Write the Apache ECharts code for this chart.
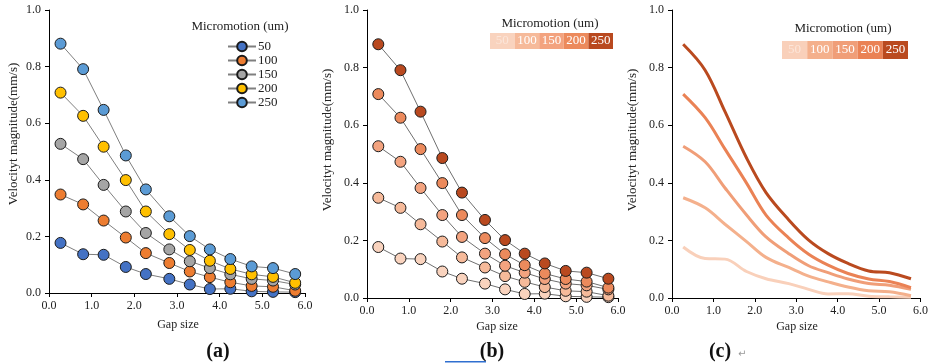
<!DOCTYPE html>
<html><head><meta charset="utf-8">
<script src="https://cdn.jsdelivr.net/npm/echarts@6/dist/echarts.min.js"></script>
<style>html,body{margin:0;padding:0;background:#fff}#c{width:931px;height:363px}</style>
</head><body><div id="c"></div>
<script>
var gapSize = [0.27, 0.8, 1.28, 1.8, 2.27, 2.82, 3.3, 3.77, 4.25, 4.75, 5.25, 5.77];
var seriesNames = ['50', '100', '150', '200', '250'];
var v50  = [0.177, 0.137, 0.135, 0.092, 0.067, 0.050, 0.030, 0.014, 0.015, 0.006, 0.004, 0.003];
var v100 = [0.348, 0.313, 0.256, 0.196, 0.141, 0.106, 0.076, 0.056, 0.038, 0.025, 0.022, 0.008];
var v150 = [0.527, 0.473, 0.382, 0.288, 0.212, 0.154, 0.112, 0.088, 0.066, 0.050, 0.044, 0.030];
var v200 = [0.708, 0.626, 0.517, 0.399, 0.288, 0.208, 0.152, 0.114, 0.085, 0.066, 0.057, 0.036];
var v250 = [0.881, 0.791, 0.647, 0.486, 0.366, 0.271, 0.201, 0.154, 0.120, 0.094, 0.088, 0.067];
var xTicks = ['0.0', '1.0', '2.0', '3.0', '4.0', '5.0', '6.0'];
var values = [v50, v100, v150, v200, v250];

var colorsA = ['#4472C4', '#ED7D31', '#A5A5A5', '#FFC000', '#5B9BD5'];
var colorsB = ['#F9D3BE', '#F6BA9A', '#F3A37F', '#EC8A5C', '#B9491F'];
var colorsC = ['#F9D0BA', '#F4B08C', '#F09E78', '#EA8255', '#BA4A1F'];
var FONT = 'Liberation Serif';

function pairs(v){ return gapSize.map(function(x,i){ return [x, v[i]]; }); }

var grids = [
  {left: 49, top: 10, width: 256, height: 283},
  {left: 367, top: 10, width: 251, height: 288},
  {left: 672, top: 10, width: 250, height: 288}
];
function xAx(i){ return {type:'value', gridIndex:i, min:0, max:6, interval:1,
  axisLine:{lineStyle:{color:'#000', width:1}}, axisTick:{show:true, length:4, lineStyle:{color:'#000'}},
  splitLine:{show:false},
  axisLabel:{color:'#222', fontFamily:FONT, fontSize:12, margin:7, formatter:function(v){return xTicks[Math.round(v)];}}}; }
function yAx(i){ return {type:'value', gridIndex:i, min:0, max:1, interval:0.2,
  axisLine:{show:true, lineStyle:{color:'#000', width:1}}, axisTick:{show:true, length:4, lineStyle:{color:'#000'}},
  splitLine:{show:false},
  axisLabel:{color:'#222', fontFamily:FONT, fontSize:12, margin:8, formatter:function(v){return v.toFixed(1);}}}; }

var series = [];
values.forEach(function(v,k){
  series.push({name:seriesNames[k], type:'line', xAxisIndex:0, yAxisIndex:0, data:pairs(v),
    symbol:'circle', symbolSize:11, lineStyle:{color:'#7f7f7f', width:1},
    itemStyle:{color:colorsA[k], borderColor:'#1a1a1a', borderWidth:1}, z:2+k});
});
values.forEach(function(v,k){
  series.push({name:'b'+seriesNames[k], type:'line', xAxisIndex:1, yAxisIndex:1, data:pairs(v),
    symbol:'circle', symbolSize:11, lineStyle:{color:'#6f6f6f', width:1},
    itemStyle:{color:colorsB[k], borderColor:'#1a1a1a', borderWidth:1}, z:2+k});
});
values.forEach(function(v,k){
  series.push({name:'c'+seriesNames[k], type:'line', xAxisIndex:2, yAxisIndex:2, data:pairs(v),
    symbol:'none', smooth:0.35, lineStyle:{color:colorsC[k], width:3}, z:2+k});
});

function richBlocks(cols, w, h){
  var r = {}; var keys=['a','b','c','d','e'];
  keys.forEach(function(key,k){ r[key] = {backgroundColor:cols[k], color: k===0 ? '#fce6da' : '#fff',
    width:w, height:h, lineHeight:h, align:'center', fontFamily:FONT, fontSize:13, fontWeight:'normal'}; });
  return r;
}
var blockText = seriesNames.map(function(n,k){ return '{' + 'abcde'[k] + '|' + n + '}'; }).join('');

var option = {
  animation:false,
  grid: grids,
  xAxis: [xAx(0), xAx(1), xAx(2)],
  yAxis: [yAx(0), yAx(1), yAx(2)],
  legend: {data: seriesNames, orient:'vertical', left:222, top:35, itemGap:1, itemWidth:28, itemHeight:12,
    textStyle:{fontFamily:FONT, fontSize:13, color:'#222', lineHeight:11, padding:[0,0,0,-3]}},
  title: [
    {text: blockText, left:490, top:33, padding:0, textStyle:{fontWeight:'normal', rich: richBlocks(colorsB, 24.6, 16)}},
    {text: blockText, left:782, top:41, padding:0, textStyle:{fontWeight:'normal', rich: richBlocks(colorsC, 25.2, 18)}}
  ],
  graphic: [
    {type:'text', x:240, y:27, style:{text:'Micromotion (um)', font:'13px "Liberation Serif"', fill:'#222', textAlign:'center', textVerticalAlign:'middle'}},
    {type:'text', x:550, y:24, style:{text:'Micromotion (um)', font:'13px "Liberation Serif"', fill:'#222', textAlign:'center', textVerticalAlign:'middle'}},
    {type:'text', x:843, y:29, style:{text:'Micromotion (um)', font:'13px "Liberation Serif"', fill:'#222', textAlign:'center', textVerticalAlign:'middle'}},
    {type:'text', x:14, y:134, rotation:Math.PI/2, style:{text:'Velocityt magnitude(mm/s)', font:'13px "Liberation Serif"', fill:'#222', textAlign:'center', textVerticalAlign:'middle'}},
    {type:'text', x:328, y:140, rotation:Math.PI/2, style:{text:'Velocityt magnitude(mm/s)', font:'13px "Liberation Serif"', fill:'#222', textAlign:'center', textVerticalAlign:'middle'}},
    {type:'text', x:633, y:140, rotation:Math.PI/2, style:{text:'Velocityt magnitude(mm/s)', font:'13px "Liberation Serif"', fill:'#222', textAlign:'center', textVerticalAlign:'middle'}},
    {type:'text', x:178, y:325, style:{text:'Gap size', font:'12px "Liberation Serif"', fill:'#222', textAlign:'center', textVerticalAlign:'middle'}},
    {type:'text', x:497, y:327, style:{text:'Gap size', font:'12px "Liberation Serif"', fill:'#222', textAlign:'center', textVerticalAlign:'middle'}},
    {type:'text', x:797, y:327, style:{text:'Gap size', font:'12px "Liberation Serif"', fill:'#222', textAlign:'center', textVerticalAlign:'middle'}},
    {type:'text', x:218, y:352, style:{text:'(a)', font:'bold 20px "Liberation Serif"', fill:'#111', textAlign:'center', textVerticalAlign:'middle'}},
    {type:'text', x:492, y:352, style:{text:'(b)', font:'bold 20px "Liberation Serif"', fill:'#111', textAlign:'center', textVerticalAlign:'middle'}},
    {type:'text', x:720, y:352, style:{text:'(c)', font:'bold 20px "Liberation Serif"', fill:'#111', textAlign:'center', textVerticalAlign:'middle'}},
    {type:'text', x:738, y:354, style:{text:'\u21B5', font:'10px "DejaVu Sans"', fill:'#999', textAlign:'left', textVerticalAlign:'middle'}},
    {type:'rect', shape:{x:445, y:361, width:41, height:1.5}, style:{fill:'#2F6FD0'}}
  ],
  series: series
};
echarts.init(document.getElementById('c')).setOption(option);
</script></body></html>
